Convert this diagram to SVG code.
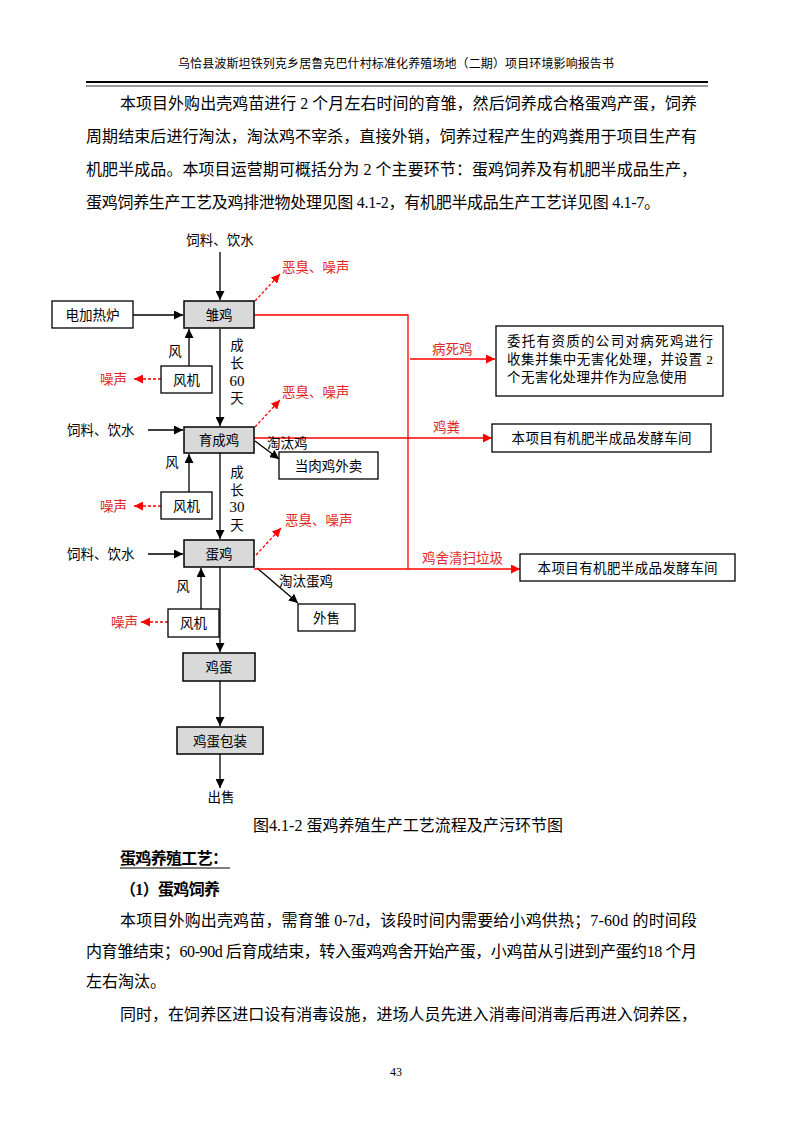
<svg xmlns="http://www.w3.org/2000/svg" width="793" height="1122" viewBox="0 0 793 1122">
<style>
.t{font-family:"Liberation Serif","Noto Sans CJK SC",serif;fill:#000}
.b{font-size:16px}
.d{font-size:13.5px}
.n{font-size:15px}
.r{fill:#e02828}
.box{fill:#fff;stroke:#000;stroke-width:1.3}
.g{fill:#d9d9d9;stroke:#000;stroke-width:1.5}
.k{stroke:#000;stroke-width:1.3;fill:none}
.rl{stroke:#f00;stroke-width:1.3;fill:none}
.rd{stroke:#f00;stroke-width:1.3;fill:none;stroke-dasharray:3,2}
</style>
<defs>
<marker id="ab" viewBox="0 0 10 10" refX="10" refY="5" markerWidth="9" markerHeight="9" orient="auto" markerUnits="userSpaceOnUse"><path d="M0,0 L10,5 L0,10 z" fill="#000"/></marker>
<marker id="ar" viewBox="0 0 10 10" refX="10" refY="5" markerWidth="9" markerHeight="9" orient="auto" markerUnits="userSpaceOnUse"><path d="M0,0 L10,5 L0,10 z" fill="#f00"/></marker>
</defs>
<rect width="793" height="1122" fill="#fff"/>
<g id="header">
<text class="t" x="396" y="68" font-size="12" text-anchor="middle" textLength="436">乌恰县波斯坦铁列克乡居鲁克巴什村标准化养殖场地（二期）项目环境影响报告书</text>
<line x1="86" y1="82" x2="708" y2="82" stroke="#000" stroke-width="2.2"/>
<line x1="86" y1="86" x2="708" y2="86" stroke="#000" stroke-width="0.8"/>
</g>
<g id="para1" class="t b">
<text x="120" y="109" textLength="577">本项目外购出壳鸡苗进行 2 个月左右时间的育雏，然后饲养成合格蛋鸡产蛋，饲养</text>
<text x="86" y="142" textLength="611">周期结束后进行淘汰，淘汰鸡不宰杀，直接外销，饲养过程产生的鸡粪用于项目生产有</text>
<text x="86" y="175" textLength="611">机肥半成品。本项目运营期可概括分为 2 个主要环节：蛋鸡饲养及有机肥半成品生产，</text>
<text x="86" y="208" textLength="574">蛋鸡饲养生产工艺及鸡排泄物处理见图 4.1-2，有机肥半成品生产工艺详见图 4.1-7。</text>
</g>
<g id="connectors">
<line class="k" x1="220" y1="252" x2="220" y2="300" marker-end="url(#ab)"/>
<line class="k" x1="133" y1="315" x2="183" y2="315" marker-end="url(#ab)"/>
<line class="k" x1="189" y1="366" x2="189" y2="329" marker-end="url(#ab)"/>
<line class="rd" x1="161" y1="379" x2="134" y2="379" marker-end="url(#ar)"/>
<line class="rd" x1="255" y1="301" x2="280" y2="274" marker-end="url(#ar)"/>
<line class="k" x1="220" y1="329" x2="220" y2="426" marker-end="url(#ab)"/>
<line class="k" x1="148" y1="430" x2="183" y2="430" marker-end="url(#ab)"/>
<line class="k" x1="189" y1="492" x2="189" y2="454" marker-end="url(#ab)"/>
<line class="rd" x1="161" y1="506" x2="134" y2="506" marker-end="url(#ar)"/>
<line class="rd" x1="255" y1="427" x2="280" y2="400" marker-end="url(#ar)"/>
<line class="k" x1="255" y1="441" x2="279" y2="459" marker-end="url(#ab)"/>
<line class="k" x1="220" y1="453" x2="220" y2="539" marker-end="url(#ab)"/>
<line class="k" x1="148" y1="554" x2="183" y2="554" marker-end="url(#ab)"/>
<line class="k" x1="201" y1="609" x2="201" y2="568" marker-end="url(#ab)"/>
<line class="rd" x1="168" y1="622" x2="141" y2="622" marker-end="url(#ar)"/>
<line class="rd" x1="256" y1="555" x2="281" y2="528" marker-end="url(#ar)"/>
<line class="k" x1="257" y1="568" x2="298" y2="603" marker-end="url(#ab)"/>
<line class="k" x1="220" y1="567" x2="220" y2="652" marker-end="url(#ab)"/>
<line class="k" x1="220" y1="681" x2="220" y2="726" marker-end="url(#ab)"/>
<line class="k" x1="220" y1="754" x2="220" y2="788" marker-end="url(#ab)"/>
<polyline class="rl" points="254,315 408,315 408,569"/>
<line class="rl" x1="410" y1="359" x2="495" y2="359" marker-end="url(#ar)"/>
<line class="rl" x1="254" y1="438" x2="492" y2="438" marker-end="url(#ar)"/>
<line class="rl" x1="254" y1="569" x2="520" y2="569" marker-end="url(#ar)"/>
</g>
<g id="labels" class="t d">
<text x="220" y="245" text-anchor="middle">饲料、饮水</text>
<text class="t d r" x="282" y="272">恶臭、噪声</text>
<text x="175" y="356" text-anchor="middle">风</text>
<text class="t d r" x="100" y="384">噪声</text>
<text x="237" y="350" text-anchor="middle">成</text>
<text x="237" y="368" text-anchor="middle">长</text>
<text class="t n" x="237" y="386" text-anchor="middle">60</text>
<text x="237" y="403" text-anchor="middle">天</text>
<text class="t d r" x="282" y="397">恶臭、噪声</text>
<text x="67" y="435">饲料、饮水</text>
<text x="267" y="448">淘汰鸡</text>
<text x="172" y="467" text-anchor="middle">风</text>
<text class="t d r" x="100" y="511">噪声</text>
<text x="237" y="477" text-anchor="middle">成</text>
<text x="237" y="495" text-anchor="middle">长</text>
<text class="t n" x="237" y="512" text-anchor="middle">30</text>
<text x="237" y="530" text-anchor="middle">天</text>
<text class="t d r" x="285" y="525">恶臭、噪声</text>
<text x="67" y="559">饲料、饮水</text>
<text x="279" y="586">淘汰蛋鸡</text>
<text x="183" y="591" text-anchor="middle">风</text>
<text class="t d r" x="111" y="627">噪声</text>
<text x="221" y="802" text-anchor="middle">出售</text>
<text class="t d r" x="432" y="354">病死鸡</text>
<text class="t d r" x="433" y="432">鸡粪</text>
<text class="t d r" x="422" y="563">鸡舍清扫垃圾</text>
</g>
<g id="n_heater"><rect class="box" x="52" y="301" width="81" height="27"/><text class="t d" x="92.5" y="319.5" text-anchor="middle">电加热炉</text></g>
<g id="n_chick"><rect class="g" x="184" y="301" width="70" height="27"/><text class="t d" x="219" y="319.5" text-anchor="middle">雏鸡</text></g>
<g id="n_fan1"><rect class="box" x="161" y="366" width="51" height="27"/><text class="t d" x="186.5" y="384.5" text-anchor="middle">风机</text></g>
<g id="n_grow"><rect class="g" x="184" y="427" width="70" height="26"/><text class="t d" x="219" y="445" text-anchor="middle">育成鸡</text></g>
<g id="n_meat"><rect class="box" x="279" y="452" width="99" height="27"/><text class="t d" x="328.5" y="470.5" text-anchor="middle">当肉鸡外卖</text></g>
<g id="n_fan2"><rect class="box" x="161" y="492" width="51" height="27"/><text class="t d" x="186.5" y="510.5" text-anchor="middle">风机</text></g>
<g id="n_layer"><rect class="g" x="184" y="540" width="70" height="27"/><text class="t d" x="219" y="558.5" text-anchor="middle">蛋鸡</text></g>
<g id="n_sell"><rect class="box" x="298" y="604" width="57" height="27"/><text class="t d" x="326.5" y="622.5" text-anchor="middle">外售</text></g>
<g id="n_fan3"><rect class="box" x="168" y="609" width="51" height="28"/><text class="t d" x="193.5" y="627.5" text-anchor="middle">风机</text></g>
<g id="n_egg"><rect class="g" x="183" y="653" width="72" height="28"/><text class="t d" x="219" y="671.5" text-anchor="middle">鸡蛋</text></g>
<g id="n_pack"><rect class="g" x="177" y="727" width="86" height="27"/><text class="t d" x="220" y="745.5" text-anchor="middle">鸡蛋包装</text></g>
<g id="n_dead"><rect class="box" x="496" y="326" width="227" height="70"/>
<text class="t d" x="507" y="346" textLength="206">委托有资质的公司对病死鸡进行</text>
<text class="t d" x="507" y="364" textLength="206">收集并集中无害化处理，并设置 2</text>
<text class="t d" x="507" y="382" textLength="180">个无害化处理井作为应急使用</text></g>
<g id="n_ferm1"><rect class="box" x="492" y="424" width="219" height="28"/><text class="t d" x="601.5" y="443" text-anchor="middle" textLength="180">本项目有机肥半成品发酵车间</text></g>
<g id="n_ferm2"><rect class="box" x="520" y="554" width="215" height="27"/><text class="t d" x="627.5" y="572.5" text-anchor="middle" textLength="180">本项目有机肥半成品发酵车间</text></g>
<g id="caption"><text class="t" x="253" y="831" font-size="16" textLength="310">图4.1-2 蛋鸡养殖生产工艺流程及产污环节图</text></g>
<g id="para2" class="t b">
<text x="120" y="864" font-weight="bold" textLength="108">蛋鸡养殖工艺：</text>
<line x1="120" y1="868" x2="230" y2="868" stroke="#000" stroke-width="1"/>
<text x="120" y="895" font-weight="bold" textLength="100">（1）蛋鸡饲养</text>
<text x="120" y="926" textLength="577">本项目外购出壳鸡苗，需育雏 0-7d，该段时间内需要给小鸡供热；7-60d 的时间段</text>
<text x="86" y="957" textLength="611">内育雏结束；60-90d 后育成结束，转入蛋鸡鸡舍开始产蛋，小鸡苗从引进到产蛋约18 个月</text>
<text x="86" y="987">左右淘汰。</text>
<text x="120" y="1020" textLength="577">同时，在饲养区进口设有消毒设施，进场人员先进入消毒间消毒后再进入饲养区，</text>
</g>
<text class="t" x="396" y="1076" font-size="12" text-anchor="middle">43</text>
</svg>
